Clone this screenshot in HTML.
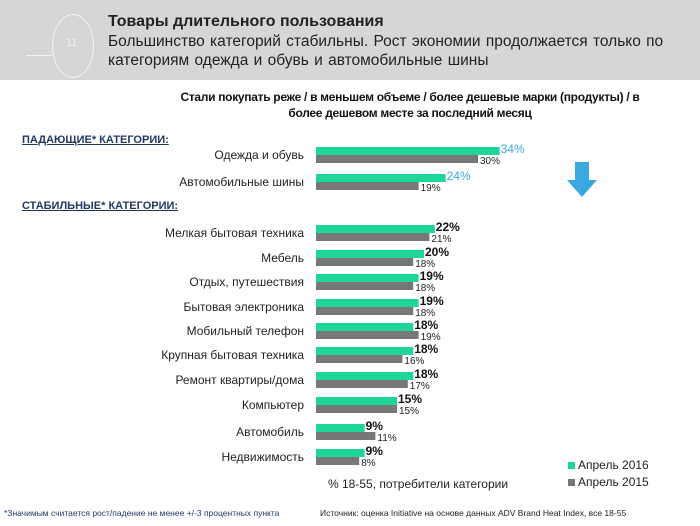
<!DOCTYPE html>
<html><head><meta charset="utf-8"><style>
body{margin:0;width:700px;height:526px;background:#fff;font-family:"Liberation Sans",sans-serif;position:relative;overflow:hidden}
.a{position:absolute;white-space:nowrap}
</style></head><body>
<div class="a" style="left:0;top:0;width:700px;height:80px;background:#d6d6d6"></div>
<div class="a" style="left:52px;top:14px;width:40px;height:62px;border:1px solid #f2f2f2;border-radius:50%"></div>
<div class="a" style="left:66px;top:37px;font-size:11px;color:#f2f2f2">11</div>
<div class="a" style="left:26px;top:55px;width:26px;height:1px;background:#f2f2f2"></div>
<div class="a" style="left:108px;top:13px;font-size:16px;font-weight:bold;color:#222">Товары длительного пользования</div>
<div class="a" style="left:108px;top:32px;font-size:15.5px;color:#222;line-height:19px;word-spacing:1px">Большинство категорий стабильны. Рост экономии продолжается только по<br>категориям одежда и обувь и автомобильные шины</div>
<div class="a" style="left:140px;top:89px;width:540px;text-align:center;font-size:12px;font-weight:bold;color:#111;line-height:16px;letter-spacing:-0.3px">Стали покупать реже / в меньшем объеме / более дешевые марки (продукты) / в<br>более дешевом месте за последний месяц</div>
<div class="a" style="left:22px;top:134px;font-size:11px;font-weight:bold;color:#1f3864;text-decoration:underline">ПАДАЮЩИЕ* КАТЕГОРИИ:</div>
<div class="a" style="left:22px;top:200px;font-size:11px;font-weight:bold;color:#1f3864;text-decoration:underline">СТАБИЛЬНЫЕ* КАТЕГОРИИ:</div>
<svg class="a" style="left:566px;top:162px" width="32" height="36"><polygon points="9,0 23,0 23,18 31,18 16,35 1,18 9,18" fill="#3aa8e0"/></svg>
<svg class="a" id="chart" style="left:0;top:0" width="700" height="526"></svg>
<div class="a" style="left:568px;top:458px;font-size:12px;color:#222"><span style="display:inline-block;width:7px;height:7px;background:#1ed59a;margin-right:3px"></span>Апрель 2016</div>
<div class="a" style="left:568px;top:475px;font-size:12px;color:#222"><span style="display:inline-block;width:7px;height:7px;background:#777;margin-right:3px"></span>Апрель 2015</div>
<div class="a" style="left:328px;top:477px;font-size:12px;color:#222">% 18-55, потребители  категории</div>
<div class="a" style="left:4px;top:508px;font-size:8.5px;color:#1f3864">*Значимым считается рост/падение не менее +/-3 процентных пункта</div>
<div class="a" style="left:320px;top:508px;font-size:8.5px;color:#222">Источник: оценка Initiative на основе данных ADV  Brand Heat Index, все 18-55</div>
<script>
const categories=["Одежда и обувь","Автомобильные шины","Мелкая бытовая техника","Мебель","Отдых, путешествия","Бытовая электроника","Мобильный телефон","Крупная бытовая техника","Ремонт квартиры/дома","Компьютер","Автомобиль","Недвижимость"];
const values2016=[34,24,22,20,19,19,18,18,18,15,9,9];
const values2015=[30,19,21,18,18,18,19,16,17,15,11,8];
const falling=[true,true,false,false,false,false,false,false,false,false,false,false];
const rowY=[155,182,233,258,282,307,331,355,380,405,432,457];
const svg=document.getElementById('chart');
const NS='http://www.w3.org/2000/svg';
const x0=316, k=5.4;
const xs=v=>x0+v*k;
function mk(t,a){const e=document.createElementNS(NS,t);for(const n in a)e.setAttribute(n,a[n]);svg.appendChild(e);return e;}
categories.forEach((c,i)=>{
  const y=rowY[i];
  const lab=mk('text',{x:304,y:y+4,'text-anchor':'end','font-size':'12',fill:'#222'});
  lab.textContent=c;
  
  
  const g=mk('rect',{x:x0,y:y-8,width:xs(values2016[i])-x0,height:8,fill:'#1ed59a'});
  
  
  const r=mk('rect',{x:x0,y:y,width:xs(values2015[i])-x0,height:8,fill:'#777'});
  
  
  const t1=mk('text',{x:xs(values2016[i])+1,y:y-2,'font-size':'12','font-weight':falling[i]?'normal':'bold',fill:falling[i]?'#3aa8e0':'#111'});
  t1.textContent=values2016[i]+'%';
  
  
  const t2=mk('text',{x:xs(values2015[i])+2,y:y+9,'font-size':'10',fill:'#222'});
  t2.textContent=values2015[i]+'%';
  
  
});
</script>
</body></html>
